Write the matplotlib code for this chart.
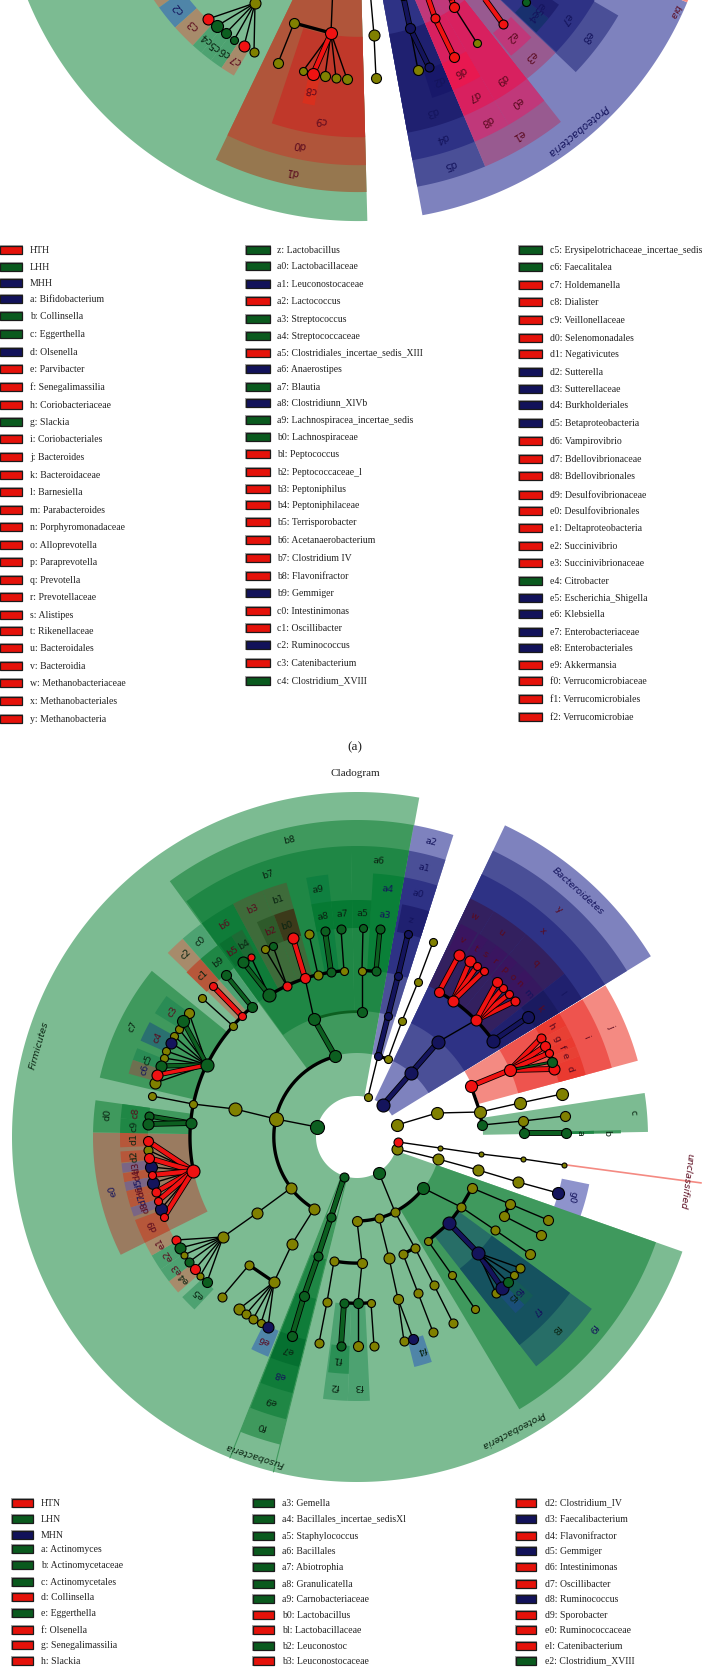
import numpy as np
import matplotlib
matplotlib.use('Agg')
import matplotlib.pyplot as plt
from matplotlib.patches import Rectangle

COL = {'O': '#808000', 'G': '#0C5F20', 'R': '#F01212', 'B': '#14145C'}
TONE = {'k': '#0A2412', 'r': '#5A0A1E', 'b': '#14145C'}
SW = {'R': '#E5120A', 'G': '#0A5A1E', 'B': '#12125A'}

G1, G2, G3, G4 = '#7CBB92', '#3F995D', '#1F8745', '#0F7C39'
P1, P2, P3, P4 = '#7E82BE', '#4A4F97', '#2E3285', '#1F2070'
BR, BR2, RB = '#9A7B60', '#A78B6B', '#B6573A'

# ring limits per level: phylum, class, order, family, genus
R_IN = [41, 84, 126, 167, 209]
R_OUT = [345, 317, 291, 264, 237]
R_LAB = [331, 304, 277, 250, 223]

LOW_C = (357, 1137)
TOP_C = (358, -136)
TOP_S = 1.035

# lower cladogram wedges, angles in degrees
low_a1 = [79.6, 72.3, 72.3, 72.3, 72.3, 31.6, 31.6, 31.6, 58.8, 50.2, 38.2, 31.6, 59.5, 56.4, 54, 50.5, 47.4, 45, 42, 38.5, 31.6,
          15.2, 15.2, 28, 25, 22.5, 20, 15.2, 1, 0.8, 0.8, -19.6, -59.2, -52, -52, -48, -45, -76, -97.4, -92, -97,
          -111.6, -111.6, -111.6, -111.6, -116.5, -137.5, -142.5, -146, -150, -154,
          179, 179, 183.5, 186.4, 188.8, 191, 193.2, 195.2, 197.3, 200.5,
          172, 172, 175.5, 141, 143.5, 151, 158, 161,
          79.7, 91.2, 79.7, 131.3, 131.3, 126.2, 126, 118, 122, 119, 111, 105.5, 110.5, 105.5, 96.3, 96.3, 91.2, 86.5, 79.7, 79.7]
low_a2 = [340.6, 79.7, 79.7, 79.7, 79, 64.6, 64.6, 64.6, 64.6, 58.8, 50.2, 38.2, 64, 59, 56.4, 54, 50.2, 47.4, 45, 42, 38.2,
          31.4, 31.4, 31.4, 28, 25, 22.5, 20, 8.7, 1.5, 1.5, -11.5, -19.4, -36.2, -36.2, -45, -42, -71.6, -92, -87.2, -92,
          -104, -104, -104, -104, -112, -133.3, -139, -142.5, -146, -150,
          206.5, 182.5, 186.2, 188.7, 191, 193.2, 195.2, 197.3, 199.6, 206.5,
          179, 175.5, 179, 167, 148.5, 156, 161, 164.5,
          126.2, 125.9, 91.2, 135.8, 136, 131.3, 131.3, 126, 125.5, 122, 118, 111, 115, 110.5, 101.1, 101.1, 96.3, 91.2, 86.5, 86.5]
low_lev = [0, 1, 2, 3, 4, 0, 1, 2, 3, 3, 3, 3, 4, 4, 4, 4, 4, 4, 4, 4, 4,
           2, 3, 4, 4, 4, 4, 4, 2, 3, 4, 4, 1, 2, 3, 4, 4, 4, 3, 3, 4,
           1, 2, 3, 4, 4, 4, 4, 4, 4, 4,
           3, 4, 4, 4, 4, 4, 4, 4, 4, 4,
           3, 4, 4, 3, 4, 4, 4, 4,
           1, 2, 2, 3, 4, 3, 4, 3, 4, 4, 3, 3, 4, 4, 3, 4, 4, 4, 4, 3]
low_col = [G1, P1, P2, P3, P4, P1, P2, P3, '#33205F', '#33205F', '#33205F', '#20206E', '#3A1560', '#3A1560', '#36185F', '#3A1560', '#3A1560', '#36185F', '#3A1560', '#36185F', '#1A1A60',
           '#F48A82', '#EE544E', '#EA3A30', '#E84034', '#EA3A30', '#E84034', '#EA3A30', G1, G2, G3, '#8E93CC', G2, '#276E67', '#15525F', '#1A4E78', '#145A55', '#4F85A8', '#4DA271', '#4DA271', '#2A9055',
           G2, G3, G4, '#057030', '#4F85A8', '#4DA271', BR2, '#4DA271', '#4DA271', BR2,
           BR, RB, RB, '#7A6585', RB, '#7A6585', RB, RB, '#7A6585', RB,
           G2, G3, G3, G2, '#2A8C55', '#2A7070', '#2A8C55', '#6E7050',
           G2, G3, G3, BR2, RB, '#4DA271', G3, G4, '#0A7030', '#1E6A35', '#3E6B3A', '#3E6B3A', '#2E5A2A', '#3C3A1A', '#0F8040', '#067A33', '#067A33', '#067A33', '#067A33', '#0A8038']

# lower cladogram labels
low_lab = ['a', 'b', 'c', 'd', 'e', 'f', 'g', 'h', 'i', 'j', 'k', 'l', 'm', 'n', 'o', 'p', 'q', 'r', 's', 't', 'u', 'v', 'w', 'x', 'y', 'z',
           'a0', 'a1', 'a2', 'a3', 'a4', 'a5', 'a6', 'a7', 'a8', 'a9', 'b0', 'b1', 'b2', 'b3', 'b4', 'b5', 'b6', 'b7', 'b8', 'b9',
           'c0', 'c1', 'c2', 'c3', 'c4', 'c5', 'c6', 'c7', 'c8', 'c9', 'd0', 'd1', 'd2', 'd3', 'd4', 'd5', 'd6', 'd7', 'd8', 'd9',
           'e0', 'e1', 'e2', 'e3', 'e4', 'e5', 'e6', 'e7', 'e8', 'e9', 'f0', 'f1', 'f2', 'f3', 'f4', 'f5', 'f6', 'f7', 'f8', 'f9', 'g0']
low_lab_a = [1, 1, 5, 17.8, 21.4, 23.6, 26.1, 29.6, 23.6, 23.6, 35.1, 35.1, 39.9, 43.4, 45.7, 48.8, 44.2, 52.1, 55.1, 57.7, 54.8, 61.8, 62, 48, 48.5, 76,
             76, 76, 76, 83, 82.9, 88.7, 85.6, 93.9, 98.8, 99, 108.3, 108.4, 112.8, 114.6, 120.3, 123.8, 122, 108.7, 102.9, 128.5,
             128.7, 133.7, 133.2, 146, 153.5, 159.8, 162.5, 153.8, 173.8, 177.2, 175, 180.5, 185, 187.7, 189.8, 192, 194, 196.2, 198.4, 203.5,
             192.5, 208.3, 212, 216.3, 219.2, 224.6, 245.4, 252, 252, 252, 252, 265, 265, 270.5, 287, 314, 316.3, 316, 316, 321, 344.4]
low_lab_l = [4, 3, 2, 4, 4, 4, 4, 4, 3, 2, 4, 3, 4, 4, 4, 4, 3, 4, 4, 4, 3, 4, 3, 2, 1, 4,
             3, 2, 1, 4, 3, 4, 2, 4, 4, 3, 4, 3, 4, 3, 4, 4, 3, 2, 1, 4,
             3, 4, 3, 4, 4, 4, 4, 3, 4, 4, 3, 4, 4, 4, 4, 4, 4, 4, 4, 4,
             3, 4, 4, 4, 4, 4, 4, 4, 3, 2, 1, 4, 3, 3, 4, 4, 4, 3, 2, 1, 4]
low_lab_t = list('kkk') + list('rrrrrrrr') + list('bb') + list('rrrrrrrrrrrr') + list('bbb') + list('bbb') + list('kkkkkkk') + list('rrkrrkkkkk') + list('krrkbkrkkk') + list('krrbrbrrbr') + list('rrkkrkbkkkk') + list('kkkbbkbbkb')

low_phy = ['Firmicutes', 'Bacteroidetes', 'Fusobacteria', 'Proteobacteria', 'unclassified']
low_phy_a = [164, 48, 252.2, -62, -7.6]
low_phy_r = [331, 331, 334, 332, 332]
low_phy_t = ['k', 'b', 'k', 'k', 'r']

# upper cladogram wedges, angle from straight down
top_a1 = [-100, -25.7, -25.7, -18.4, -13.1, -57, -54.2, -48.2, -42.3, -39.7, -36.8, -33.8,
          10.4, 10.4, 10.4, 10.4, 17.6, 22.8, 22.8, 30, 22.8, 30, 22.8, 38.2, 38.6, 46.3, 46.5, 46.6, 51, 67.2]
top_a2 = [1.5, 1.5, 1.5, 1.5, -10.2, -54.2, -48.2, -42.3, -39.7, -36.8, -33.8, -30.4,
          67.2, 22.8, 22.8, 22.8, 22.8, 38.2, 30, 38.2, 30, 38.2, 30, 46.6, 45, 59.8, 60, 51, 55, 80]
top_lev = [0, 1, 2, 3, 4, 4, 4, 4, 4, 4, 4, 4,
           0, 1, 2, 3, 4, 1, 2, 2, 3, 3, 4, 3, 4, 2, 3, 4, 4, 0]
top_col = [G1, '#96774F', '#B0553A', '#C0382A', '#D8301E', BR2, '#4F85A8', BR2, '#4DA271', '#4DA271', '#4DA271', BR2,
           P1, P2, P3, P4, '#18186A', '#985A90', '#C0387A', '#C0387A', '#D8205F', '#D8205F', '#E81850', '#985A90', '#C0387A', P2, P3, '#18306E', P4, '#F48A82']

top_lab = ['c2', 'c3', 'c4', 'c5', 'c6', 'c7', 'c8', 'c9', 'd0', 'd1', 'd2', 'd3', 'd4', 'd5', 'd6', 'd7', 'd8', 'd9', 'e0', 'e1', 'e2', 'e3', 'e4', 'e5', 'e7', 'e8']
top_lab_a = [-51.2, -45.7, -41, -38.3, -35.3, -32, -11.8, -8.3, -11.7, -12, 20.4, 16.7, 17, 17.1, 26.1, 26.6, 26.7, 33.7, 33.7, 30.7, 41.8, 41.9, 48.9, 51.5, 53.3, 52.9]
top_lab_l = [4, 4, 4, 4, 4, 4, 4, 3, 2, 1, 4, 3, 2, 1, 4, 3, 2, 3, 2, 1, 4, 3, 4, 4, 3, 2]
top_lab_t = list('brkkkr') + list('rrrr') + list('bbbb') + list('rrrrrr') + list('rr') + list('bbbb')

# nodes: id, x, y, diameter, colour, parent, edge width (0 thin, -2 thick black)
left_chain = [('r0', 317, 1127, 14, 'G', None, 0), ('c1', 276, 1119, 14, 'O', 'r0', 0), ('o1', 235, 1109, 13, 'O', 'c1', 0), ('f1', 193, 1104, 8, 'O', 'o1', 0), ('g1', 152, 1096, 8, 'O', 'f1', 0),
              ('c0', 335, 1056, 12, 'G', None, 0), ('c2', 291, 1188, 11, 'O', None, 0), ('c3', 314, 1209, 11, 'O', None, 0),
              ('o0', 314, 1019, 12, 'G', 'c0', 3), ('o0b', 362, 1012, 10, 'G', None, 0)]
top_fam = [('fa', 269, 995, 13, 'G', None, 0), ('fb', 287, 986, 9, 'R', None, 0), ('fc', 305, 978, 10, 'R', 'o0', 0), ('fd', 318, 975, 9, 'O', None, 0), ('fe', 331, 972, 9, 'G', None, 0), ('ff', 344, 971, 8, 'O', None, 0),
           ('h1', 362, 971, 8, 'O', 'o0b', 0), ('h2', 376, 971, 9, 'G', None, 0),
           ('fc1', 293, 938, 11, 'R', 'fc', 3), ('fd1', 309, 934, 9, 'O', 'fd', 0), ('fe1', 325, 931, 9, 'G', 'fe', 3), ('ff1', 341, 929, 9, 'G', 'ff', 0), ('h11', 363, 928, 8, 'G', 'h1', 0), ('h21', 380, 929, 9, 'G', 'h2', 2.5),
           ('fb1', 265, 949, 8, 'O', 'fb', 0), ('fb2', 273, 946, 8, 'G', 'fb', 0), ('fa1', 251, 957, 7, 'R', 'fa', 0), ('fa2', 243, 962, 11, 'G', 'fa', 2.5)]
left_fam = [('fL1', 207, 1065, 13, 'G', None, 0), ('fL2', 233, 1026, 8, 'O', None, 0), ('fL3', 242, 1016, 8, 'R', None, 0), ('fL4', 252, 1007, 10, 'G', None, 0),
            ('fL31', 213, 986, 8, 'R', 'fL3', 3), ('fL41', 226, 975, 10, 'G', 'fL4', 2.5), ('fL21', 202, 998, 8, 'O', 'fL2', 0),
            ('q1', 189, 1013, 10, 'O', 'fL1', 0), ('q3', 179, 1029, 8, 'O', 'fL1', 0), ('q4', 174, 1036, 8, 'O', 'fL1', 0), ('q2', 183, 1021, 12, 'G', 'fL1', 2.5),
            ('q6', 166, 1051, 8, 'O', 'fL1', 0), ('q5', 171, 1043, 11, 'B', 'fL1', 0), ('q7', 164, 1058, 8, 'O', 'fL1', 0), ('q10', 155, 1083, 11, 'O', 'fL1', 0), ('q8', 161, 1066, 11, 'G', 'fL1', 2.5), ('q9', 157, 1075, 11, 'R', 'fL1', 2.5)]
mid_fam = [('fM', 191, 1123, 11, 'G', None, 0), ('m1', 149, 1116, 9, 'G', 'fM', 2.5), ('m2', 148, 1124, 11, 'G', 'fM', 3),
           ('fR', 193, 1171, 13, 'R', None, 0), ('u2', 148, 1150, 9, 'O', 'fR', 0), ('u4', 151, 1167, 12, 'B', 'fR', 0), ('u6', 153, 1183, 12, 'B', 'fR', 0), ('u9', 161, 1209, 12, 'B', 'fR', 0),
           ('u1', 148, 1141, 10, 'R', 'fR', 3), ('u3', 149, 1158, 10, 'R', 'fR', 3), ('u5', 152, 1175, 8, 'R', 'fR', 3), ('u7', 156, 1192, 9, 'R', 'fR', 3), ('u8', 158, 1201, 8, 'R', 'fR', 3), ('u10', 164, 1217, 8, 'R', 'fR', 3)]
low_left = [('s1', 257, 1213, 11, 'O', 'c2', 0), ('s2', 223, 1237, 11, 'O', 's1', 0), ('s21', 176, 1240, 9, 'R', 's2', 0), ('s22', 180, 1248, 11, 'G', 's2', 0), ('s23', 184, 1255, 7, 'O', 's2', 0), ('s24', 189, 1262, 9, 'G', 's2', 0), ('s25', 195, 1269, 10, 'R', 's2', 0), ('s26', 200, 1276, 7, 'O', 's2', 0), ('s27', 207, 1282, 10, 'G', 's2', 0),
            ('t1', 292, 1244, 11, 'O', 'c3', 0), ('t2', 274, 1282, 11, 'O', 't1', 0), ('t3', 249, 1265, 9, 'O', 't2', -2), ('t4', 222, 1297, 9, 'O', 't3', 0),
            ('t21', 239, 1309, 11, 'O', 't2', 0), ('t22', 246, 1314, 9, 'O', 't2', 0), ('t23', 253, 1319, 9, 'O', 't2', 0), ('t24', 261, 1323, 8, 'O', 't2', 0), ('t25', 268, 1327, 11, 'B', 't2', 0)]
fuso = [('v1', 344, 1177, 9, 'G', None, 0), ('v2', 331, 1217, 9, 'G', 'v1', 3), ('v3', 318, 1256, 9, 'G', 'v2', 3), ('v4', 304, 1296, 10, 'G', 'v3', 3), ('v5', 292, 1336, 10, 'G', 'v4', 3)]
low_mid = [('r1', 379, 1173, 12, 'G', None, 0), ('w1', 395, 1212, 9, 'O', 'r1', 0), ('w2', 379, 1218, 9, 'O', None, 0), ('w3', 357, 1221, 10, 'O', None, 0), ('w4', 423, 1188, 12, 'G', None, 0),
           ('x1', 362, 1263, 10, 'O', 'w3', 0), ('x2', 334, 1261, 9, 'O', None, 0), ('x3', 358, 1303, 10, 'G', 'x1', 0), ('x4', 344, 1303, 9, 'G', None, 0), ('x5', 371, 1303, 8, 'O', None, 0),
           ('x41', 341, 1346, 9, 'G', 'x4', 3), ('x31', 358, 1346, 10, 'O', 'x3', 0), ('x51', 374, 1346, 9, 'O', 'x5', 0), ('x21', 327, 1302, 9, 'O', 'x2', 0), ('x22', 319, 1343, 9, 'O', 'x21', 0),
           ('y1', 389, 1258, 11, 'O', 'w2', 0), ('y2', 398, 1299, 10, 'O', 'y1', 0), ('y3', 404, 1341, 9, 'O', 'y2', 0), ('y4', 413, 1339, 10, 'B', 'y2', 0),
           ('z1', 415, 1248, 9, 'O', 'w1', 0), ('z2', 403, 1254, 9, 'O', 'z1', -2), ('z3', 434, 1285, 9, 'O', 'z1', 0), ('z4', 453, 1323, 9, 'O', 'z3', 0), ('z5', 418, 1293, 9, 'O', 'z2', 0), ('z6', 433, 1332, 9, 'O', 'z5', 0)]
proteo = [('k1', 461, 1207, 9, 'O', 'w4', 0), ('k2', 472, 1188, 10, 'O', 'k1', -2), ('k3', 449, 1223, 13, 'B', 'k1', -2), ('k4', 428, 1241, 8, 'O', 'k3', -2), ('k5', 452, 1275, 8, 'O', 'k4', 0), ('k6', 475, 1309, 8, 'O', 'k5', 0),
          ('l1', 510, 1204, 10, 'O', 'k2', 0), ('l2', 504, 1216, 10, 'O', 'l1', -2), ('l3', 548, 1220, 10, 'O', 'l1', 0), ('l4', 541, 1235, 10, 'O', 'l2', 0), ('l5', 495, 1230, 9, 'O', 'k1', 0), ('l6', 530, 1254, 10, 'O', 'l5', 0),
          ('n1', 478, 1253, 13, 'B', 'k3', 3), ('n2', 520, 1268, 9, 'O', 'n1', 0), ('n3', 514, 1275, 8, 'O', 'n1', 0), ('n6', 496, 1293, 9, 'O', 'n1', 0), ('n5', 502, 1288, 13, 'B', 'n1', 3), ('n4', 508, 1282, 10, 'G', 'n1', 0)]
right_low = [('e1', 397, 1125, 12, 'O', None, 0), ('e2', 437, 1113, 12, 'O', 'e1', 0), ('e3', 480, 1112, 12, 'O', 'e2', 0), ('e4', 520, 1103, 12, 'O', 'e3', 0), ('e5', 562, 1094, 12, 'O', 'e4', 0),
             ('a1', 471, 1086, 12, 'R', 'e3', -2), ('a2', 482, 1125, 10, 'G', 'e3', -2), ('a3', 510, 1070, 12, 'R', 'a1', 3),
             ('a4', 541, 1038, 9, 'R', 'a3', 3), ('a5', 545, 1046, 10, 'R', 'a3', 3), ('a6', 549, 1053, 8, 'R', 'a3', 3), ('a8', 554, 1069, 11, 'R', 'a3', 3), ('a7', 552, 1062, 10, 'G', 'a3', 1),
             ('b1', 523, 1121, 10, 'O', 'a2', 0), ('b2', 524, 1133, 10, 'G', 'b1', -2), ('b3', 565, 1116, 10, 'O', 'b1', 0), ('b4', 566, 1133, 10, 'G', 'b2', 3),
             ('d1', 397, 1149, 11, 'O', None, 0), ('d2', 438, 1159, 11, 'O', 'd1', 0), ('d3', 478, 1170, 11, 'O', 'd2', 0), ('d4', 518, 1182, 11, 'O', 'd3', 0), ('d5', 558, 1193, 12, 'B', 'd4', 0),
             ('i1', 398, 1142, 9, 'R', None, 0), ('i2', 440, 1148, 5, 'O', 'i1', 0), ('i3', 481, 1154, 5, 'O', 'i2', 0), ('i4', 523, 1159, 5, 'O', 'i3', 0), ('i5', 564, 1165, 5, 'O', 'i4', 0)]
bacter = [('h0', 383, 1105, 13, 'B', None, 0), ('h3', 411, 1073, 13, 'B', 'h0', 3), ('h4', 438, 1042, 13, 'B', 'h3', 3),
          ('p1', 493, 1041, 13, 'B', None, 0), ('p2', 476, 1020, 11, 'R', 'h4', 0), ('p3', 453, 1001, 11, 'R', None, 0), ('p4', 439, 992, 10, 'R', None, 0), ('p11', 528, 1017, 12, 'B', 'p1', 3),
          ('p21', 515, 1001, 9, 'R', 'p2', 3), ('p22', 509, 994, 8, 'R', 'p2', 3), ('p23', 503, 988, 8, 'R', 'p2', 3), ('p24', 497, 982, 10, 'R', 'p2', 3),
          ('p31', 470, 961, 11, 'R', 'p3', 3), ('p32', 477, 966, 8, 'R', 'p3', 3), ('p33', 484, 971, 8, 'R', 'p3', 3), ('p41', 459, 955, 11, 'R', 'p4', 3)]
blue_arm = [('j0', 368, 1097, 8, 'O', None, 0), ('j1', 378, 1056, 8, 'B', 'j0', 0), ('j2', 388, 1016, 8, 'B', 'j1', 3), ('j3', 398, 976, 8, 'B', 'j2', 3), ('j4', 408, 934, 8, 'B', 'j3', 3),
            ('j5', 388, 1059, 8, 'O', 'j1', -2), ('j6', 402, 1021, 8, 'O', 'j5', 0), ('j7', 418, 982, 8, 'O', 'j6', 0), ('j8', 433, 942, 8, 'O', 'j7', 0)]
# nodes along one ring, drawn as black arcs
arc_chains = [['c0', 'c1', 'c2', 'c3'], ['fa', 'fb', 'fc', 'fd', 'fe', 'ff'], ['h1', 'h2'], ['fL4', 'fL3', 'fL2', 'fL1', 'f1', 'fM', 'fR'],
              ['w3', 'w2', 'w1', 'w4'], ['x2', 'x1'], ['x4', 'x3', 'x5'], ['p1', 'p2', 'p3', 'p4']]
green_arcs = [['o0', 'o0b']]
low_nodes = left_chain + top_fam + left_fam + mid_fam + low_left + fuso + low_mid + proteo + right_low + bacter + blue_arm

up_nodes = [('A0', 255, 3, 11, 'O', None, 0), ('A1', 208, 19, 11, 'R', 'A0', 0), ('A2', 217, 26, 12, 'G', 'A0', 0), ('A3', 226, 33, 10, 'G', 'A0', 0), ('A4', 234, 40, 8, 'G', 'A0', 0), ('A5', 244, 46, 11, 'R', 'A0', 0), ('A6', 254, 52, 9, 'O', 'A0', 0),
            ('B0', 333, -15, 10, 'O', None, 0), ('B1', 331, 33, 12, 'R', 'B0', 0), ('B2', 294, 23, 10, 'O', 'B1', -2), ('B3', 278, 63, 10, 'O', 'B2', 0),
            ('B4', 303, 71, 8, 'O', 'B1', 0), ('B6', 325, 76, 10, 'O', 'B1', 0), ('B7', 336, 78, 9, 'O', 'B1', 0), ('B8', 347, 79, 10, 'O', 'B1', 0), ('B5', 313, 74, 12, 'R', 'B1', 3),
            ('C0', 370, -10, 10, 'O', None, 0), ('C1', 374, 35, 11, 'O', 'C0', 0), ('C2', 376, 78, 10, 'O', 'C1', 0),
            ('D0', 403, -5, 10, 'B', None, 0), ('D1', 410, 28, 10, 'B', 'D0', 3), ('D2', 418, 70, 10, 'O', 'D1', 0), ('D3', 429, 67, 9, 'B', 'D1', 3),
            ('E0', 427, -5, 8, 'R', None, 0), ('E1', 435, 18, 9, 'R', 'E0', 3), ('E2', 454, 57, 10, 'R', 'E1', 3),
            ('F0', 450, -5, 9, 'R', None, 0), ('F1', 454, 7, 10, 'R', 'F0', 3), ('F2', 477, 43, 8, 'O', 'F1', 0),
            ('H0', 482, -5, 8, 'R', None, 0), ('H1', 503, 24, 9, 'R', 'H0', 3), ('H2', 526, 2, 8, 'G', None, 0)]

# legends of panel (a)
a1_txt = ['HTH', 'LHH', 'MHH', 'a: Bifidobacterium', 'b: Collinsella', 'c: Eggerthella', 'd: Olsenella', 'e: Parvibacter', 'f: Senegalimassilia', 'h: Coriobacteriaceae', 'g: Slackia', 'i: Coriobacteriales', 'j: Bacteroides', 'k: Bacteroidaceae', 'l: Barnesiella',
          'm: Parabacteroides', 'n: Porphyromonadaceae', 'o: Alloprevotella', 'p: Paraprevotella', 'q: Prevotella', 'r: Prevotellaceae', 's: Alistipes', 't: Rikenellaceae', 'u: Bacteroidales', 'v: Bacteroidia', 'w: Methanobacteriaceae', 'x: Methanobacteriales', 'y: Methanobacteria']
a1_y = [250, 267, 283, 299, 316, 334, 352, 369, 387, 405, 422, 439, 457, 475, 492, 510, 527, 545, 562, 580, 597, 615, 631, 648, 666, 683, 701, 719]
a1_c = 'RGBBGGBRRRGR' + 'R' * 16
a2_txt = ['z: Lactobacillus', 'a0: Lactobacillaceae', 'a1: Leuconostocaceae', 'a2: Lactococcus', 'a3: Streptococcus', 'a4: Streptococcaceae', 'a5: Clostridiales_incertae_sedis_XIII', 'a6: Anaerostipes', 'a7: Blautia', 'a8: Clostridiunn_XlVb', 'a9: Lachnospiracea_incertae_sedis', 'b0: Lachnospiraceae', 'bl: Peptococcus', 'b2: Peptococcaceae_l', 'b3: Peptoniphilus',
          'b4: Peptoniphilaceae', 'b5: Terrisporobacter', 'b6: Acetanaerobacterium', 'b7: Clostridium IV', 'b8: Flavonifractor', 'b9: Gemmiger', 'c0: Intestinimonas', 'c1: Oscillibacter', 'c2: Ruminococcus', 'c3: Catenibacterium', 'c4: Clostridium_XVIII']
a2_y = [250, 266, 284, 301, 319, 336, 353, 369, 387, 403, 420, 437, 454, 472, 489, 505, 522, 540, 558, 576, 593, 611, 628, 645, 663, 681]
a2_c = 'GGBRGGRBGBGGRRRRRRRRBRRBRG'
a3_txt = ['c5: Erysipelotrichaceae_incertae_sedis', 'c6: Faecalitalea', 'c7: Holdemanella', 'c8: Dialister', 'c9: Veillonellaceae', 'd0: Selenomonadales', 'd1: Negativicutes', 'd2: Sutterella', 'd3: Sutterellaceae', 'd4: Burkholderiales', 'd5: Betaproteobacteria', 'd6: Vampirovibrio', 'd7: Bdellovibrionaceae', 'd8: Bdellovibrionales',
          'd9: Desulfovibrionaceae', 'e0: Desulfovibrionales', 'e1: Deltaproteobacteria', 'e2: Succinivibrio', 'e3: Succinivibrionaceae', 'e4: Citrobacter', 'e5: Escherichia_Shigella', 'e6: Klebsiella', 'e7: Enterobacteriaceae', 'e8: Enterobacteriales', 'e9: Akkermansia', 'f0: Verrucomicrobiaceae', 'f1: Verrucomicrobiales', 'f2: Verrucomicrobiae']
a3_y = [250, 267, 285, 302, 320, 338, 354, 372, 389, 405, 423, 441, 459, 476, 495, 511, 528, 546, 563, 581, 598, 614, 632, 648, 665, 681, 699, 717]
a3_c = 'GGRRRRRBBBBRRRRRRRRGBBBBRRRR'

# legends of panel (b)
b1_txt = ['HTN', 'LHN', 'MHN', 'a: Actinomyces', 'b: Actinomycetaceae', 'c: Actinomycetales', 'd: Collinsella', 'e: Eggerthella', 'f: Olsenella', 'g: Senegalimassilia', 'h: Slackia']
b2_txt = ['a3: Gemella', 'a4: Bacillales_incertae_sedisXl', 'a5: Staphylococcus', 'a6: Bacillales', 'a7: Abiotrophia', 'a8: Granulicatella', 'a9: Carnobacteriaceae', 'b0: Lactobacillus', 'bl: Lactobacillaceae', 'b2: Leuconostoc', 'b3: Leuconostocaceae']
b3_txt = ['d2: Clostridium_IV', 'd3: Faecalibacterium', 'd4: Flavonifractor', 'd5: Gemmiger', 'd6: Intestinimonas', 'd7: Oscillibacter', 'd8: Ruminococcus', 'd9: Sporobacter', 'e0: Ruminococcaceae', 'el: Catenibacterium', 'e2: Clostridium_XVIII']
b1_y = [1503, 1519, 1535, 1549, 1565, 1582, 1597, 1613, 1630, 1645, 1661]
b2_y = [1503, 1519, 1536, 1551, 1567, 1584, 1599, 1615, 1630, 1646, 1661]
b3_y = [1503, 1519, 1536, 1551, 1567, 1584, 1599, 1615, 1630, 1646, 1661]
b1_c = 'RGBGGGRGRRR'
b2_c = 'GGGGGGGRRGR'
b3_c = 'RBRBRRBRRRG'

legends = [(a1_txt, a1_y, a1_c, 0, 22, 30), (a2_txt, a2_y, a2_c, 246, 270, 277), (a3_txt, a3_y, a3_c, 519, 542, 550),
           (b1_txt, b1_y, b1_c, 12, 33, 41), (b2_txt, b2_y, b2_c, 253, 274, 282), (b3_txt, b3_y, b3_c, 516, 536, 545)]


def polar(c, s, a, r):
    a = np.radians(a)
    return c[0] + s * r * np.cos(a), c[1] - s * r * np.sin(a)


def wedge(ax, c, s, a1, a2, lev, col, z=1):
    t = np.linspace(a1, a2, max(int(abs(a2 - a1) * 2), 3))
    x1, y1 = polar(c, s, t, R_OUT[lev])
    x0, y0 = polar(c, s, t[::-1], R_IN[lev])
    ax.fill(np.r_[x1, x0], np.r_[y1, y0], color=col, lw=0, zorder=z)


def label(ax, c, s, a, r, txt, col, italic=False, size=6.8):
    x, y = polar(c, s, a, r)
    ax.text(x, y, txt, rotation=a - 90, rotation_mode='anchor', ha='center', va='center',
            fontsize=size, color=col, style='italic' if italic else 'normal', zorder=6, family='DejaVu Sans')


def draw_nodes(ax, nodes):
    pos = {n[0]: (n[1], n[2]) for n in nodes}
    for i, x, y, d, col, par, w in nodes:
        if par is None:
            continue
        px, py = pos[par]
        if w == 0:
            ax.plot([x, px], [y, py], color='k', lw=1.0, zorder=3)
        elif w < 0:
            ax.plot([x, px], [y, py], color='k', lw=2.4, zorder=3)
        else:
            ax.plot([x, px], [y, py], color='k', lw=w + 1.2, zorder=3, solid_capstyle='butt')
            ax.plot([x, px], [y, py], color=COL[col], lw=w, zorder=3, solid_capstyle='butt')
    for k, (i, x, y, d, col, par, w) in enumerate(nodes):
        ax.scatter([x], [y], s=(0.72 * d) ** 2, c=COL[col], edgecolors='k', linewidths=0.8, zorder=4 + k * 1e-3)


def draw_arcs(ax, nodes, chains, c, col, lw):
    pos = {n[0]: (n[1], n[2]) for n in nodes}
    for ch in chains:
        for p, q in zip(ch[:-1], ch[1:]):
            a1 = np.degrees(np.arctan2(c[1] - pos[p][1], pos[p][0] - c[0])) % 360
            a2 = np.degrees(np.arctan2(c[1] - pos[q][1], pos[q][0] - c[0])) % 360
            r = (np.hypot(pos[p][0] - c[0], pos[p][1] - c[1]) + np.hypot(pos[q][0] - c[0], pos[q][1] - c[1])) / 2
            x, y = polar(c, 1, np.linspace(a1, a2, 20), r)
            ax.plot(x, y, color=col, lw=lw, zorder=3)


fig = plt.figure(figsize=(7.14, 16.67), dpi=100)
ax = fig.add_axes([0, 0, 1, 1])
ax.set_xlim(0, 714)
ax.set_ylim(1667, 0)
ax.axis('off')

# upper cladogram, cut by the top of the page
for a1, a2, lev, col in zip(top_a1, top_a2, top_lev, top_col):
    wedge(ax, TOP_C, TOP_S, a1 - 90, a2 - 90, lev, col)
for txt, a, lev, t in zip(top_lab, top_lab_a, top_lab_l, top_lab_t):
    label(ax, TOP_C, TOP_S, a - 90, R_LAB[lev], txt, TONE[t], size=7.4)
label(ax, TOP_C, TOP_S, 39.5 - 90, 333, 'Proteobacteria', TONE['b'], True, 7.4)
label(ax, TOP_C, TOP_S, 65 - 90, 338, 'bia', TONE['r'], True, 6.8)
draw_nodes(ax, up_nodes)

# lower cladogram
for a1, a2, lev, col in zip(low_a1, low_a2, low_lev, low_col):
    wedge(ax, LOW_C, 1, a1, a2, lev, col)
for a in [-111.6, -104]:
    x, y = polar(LOW_C, 1, a, np.array([41, 345]))
    ax.plot(x, y, color=G2, lw=0.8, zorder=1.5)
x, y = polar(LOW_C, 1, -7.6, np.array([209, 347]))
ax.plot(x, y, color='#F48A82', lw=1.2, zorder=1.5)
for txt, a, lev, t in zip(low_lab, low_lab_a, low_lab_l, low_lab_t):
    label(ax, LOW_C, 1, a, R_LAB[lev], txt, TONE[t])
for txt, a, r, t in zip(low_phy, low_phy_a, low_phy_r, low_phy_t):
    label(ax, LOW_C, 1, a, r, txt, TONE[t], True)
draw_arcs(ax, low_nodes, arc_chains, LOW_C, 'k', 2.4)
draw_arcs(ax, low_nodes, green_arcs, LOW_C, COL['G'], 2)
draw_nodes(ax, low_nodes)

for txt, ys, cs, x0, x1, tx in legends:
    for t, y, c in zip(txt, ys, cs):
        ax.add_patch(Rectangle((x0 - 1, y - 5), x1 - x0 + 2, 10, fc='#A8A8A8', ec='none', zorder=1.8))
        ax.add_patch(Rectangle((x0, y - 3.8), x1 - x0, 7.6, fc=SW[c], ec='#1A1A1A', lw=0.9, zorder=2))
        ax.text(tx, y, t, fontsize=7, family='Liberation Serif', va='center', ha='left', color='#222222')

ax.text(355, 747, '(a)', fontsize=9.5, family='Liberation Serif', ha='center', va='center', color='#222222')
ax.text(355, 773, 'Cladogram', fontsize=8, family='Liberation Serif', ha='center', va='center', color='#222222')

fig.savefig('out.png', dpi=100)
